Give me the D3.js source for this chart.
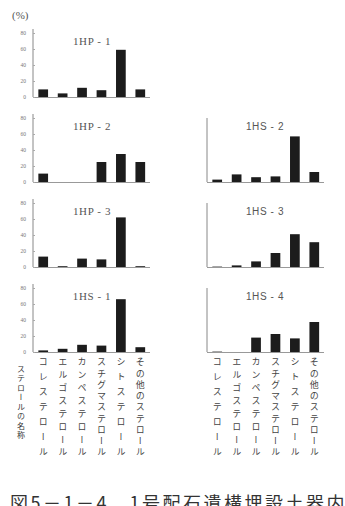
<!DOCTYPE html>
<html><head><meta charset="utf-8">
<script src="https://cdn.jsdelivr.net/npm/d3@7"></script>
<style>html,body{margin:0;padding:0;background:#fff;overflow:hidden}</style>
</head><body>
<svg id="c" width="345" height="506"></svg>
<script>
const categories = ["コレステロール","エルゴステロール","カンペステロール","スチグマステロール","シトステロール","その他のステロール"];
const panelNames = ["1HP-1","1HP-2","1HP-3","1HS-1","1HS-2","1HS-3","1HS-4"];
const panelCols  = [0,0,0,0,1,1,1];
const panelRows  = [0,1,2,3,1,2,3];
const v1HP1 = [9.5, 4.5, 11.5, 8.5, 59, 9.5];
const v1HP2 = [10.5, 0, 0, 25, 35, 25];
const v1HP3 = [13, 1, 10.5, 9.5, 62, 1];
const v1HS1 = [2, 4, 9, 8, 66, 6];
const v1HS2 = [3, 9.5, 6, 7, 57, 12.5];
const v1HS3 = [0.5, 2, 7, 17.5, 41, 31];
const v1HS4 = [0.5, 0, 18, 22.5, 17, 37.5];
const panelValues = [v1HP1, v1HP2, v1HP3, v1HS1, v1HS2, v1HS3, v1HS4];
const yTicks = [0,20,40,60,80];
const axisTitle = "ステロールの名称";
const unitLabel = "(%)";
const caption = "図5－1－4　1号配石遺構埋設土器内部の調査";

const svg = d3.select("#c");
const colX = d3.scaleOrdinal().domain([0,1]).range([33, 207]);
const rowY = d3.scaleLinear().domain([0,3]).range([97, 352]);
const x = d3.scaleBand().domain(categories).range([0.5, 117]).paddingInner(0.5).paddingOuter(0.25);
const y = d3.scaleLinear().domain([0, 80]).range([0, -64]);

svg.append("text").attr("x", 12).attr("y", 19).text(unitLabel)
  .attr("font-family","Liberation Serif").attr("font-size", 11).attr("fill","#555");

panelNames.forEach((name, i) => {
  const g = svg.append("g").attr("transform", `translate(${colX(panelCols[i])},${rowY(panelRows[i])})`);
  const top = panelCols[i] === 0 ? 85 : 80;
  g.append("line").attr("x1",0).attr("x2",0).attr("y1",0).attr("y2",y(top)).attr("stroke","#888").attr("stroke-width",1);
  g.append("line").attr("x1",0).attr("x2",117).attr("y1",0.5).attr("y2",0.5).attr("stroke","#999").attr("stroke-width",1);
  if (panelCols[i] === 0) {
    const ax = g.append("g").call(d3.axisLeft(y).tickValues(yTicks).tickSizeInner(-2).tickSizeOuter(0).tickPadding(7));
    ax.select(".domain").remove();
    ax.selectAll("line").attr("stroke","#aaa");
    ax.selectAll("text").attr("font-size",5.5).attr("fill","#777").attr("font-family","Liberation Serif");
  }
  g.selectAll("rect").data(panelValues[i]).join("rect")
    .attr("x", (d,j) => x(categories[j]))
    .attr("width", x.bandwidth())
    .attr("y", d => y(d))
    .attr("height", d => -y(d))
    .attr("fill","#1c1c1c");
  g.append("text").attr("x", panelCols[i] === 0 ? 59 : 58).attr("y", -52).attr("text-anchor","middle")
    .attr("font-family", panelCols[i] === 0 ? "Liberation Serif" : "Liberation Sans")
    .attr("font-size", panelCols[i] === 0 ? 11 : 10).attr("letter-spacing", 0.6).attr("fill","#555")
    .text(name.replace("-", " - "));
});

// each character as its own vertical text, centred on a point scale
function vertical(g, str, cx, y0, y1, fs, color) {
  const chars = Array.from(str);
  const s = d3.scalePoint().domain(d3.range(chars.length)).range([y0, y1]);
  chars.forEach((ch, k) => {
    g.append("text")
      .attr("x", cx).attr("y", s(k) - fs / 2)
      .style("writing-mode", "vertical-rl")
      .attr("font-family","Noto Sans CJK JP").attr("font-size", fs).attr("fill", color)
      .text(ch);
  });
}

[0,1].forEach(c => {
  const g = svg.append("g");
  categories.forEach(cat => {
    vertical(g, cat, colX(c) + x(cat) + x.bandwidth()/2, 362, 452, 9, "#444");
  });
});
vertical(svg.append("g"), axisTitle, 21, 369, 435, 8, "#333");

svg.append("text").attr("x", 10).attr("y", 510).text(caption)
  .attr("font-family","Noto Sans CJK JP").attr("font-size", 18).attr("letter-spacing", 2.5).attr("fill","#333");
</script>
</body></html>
